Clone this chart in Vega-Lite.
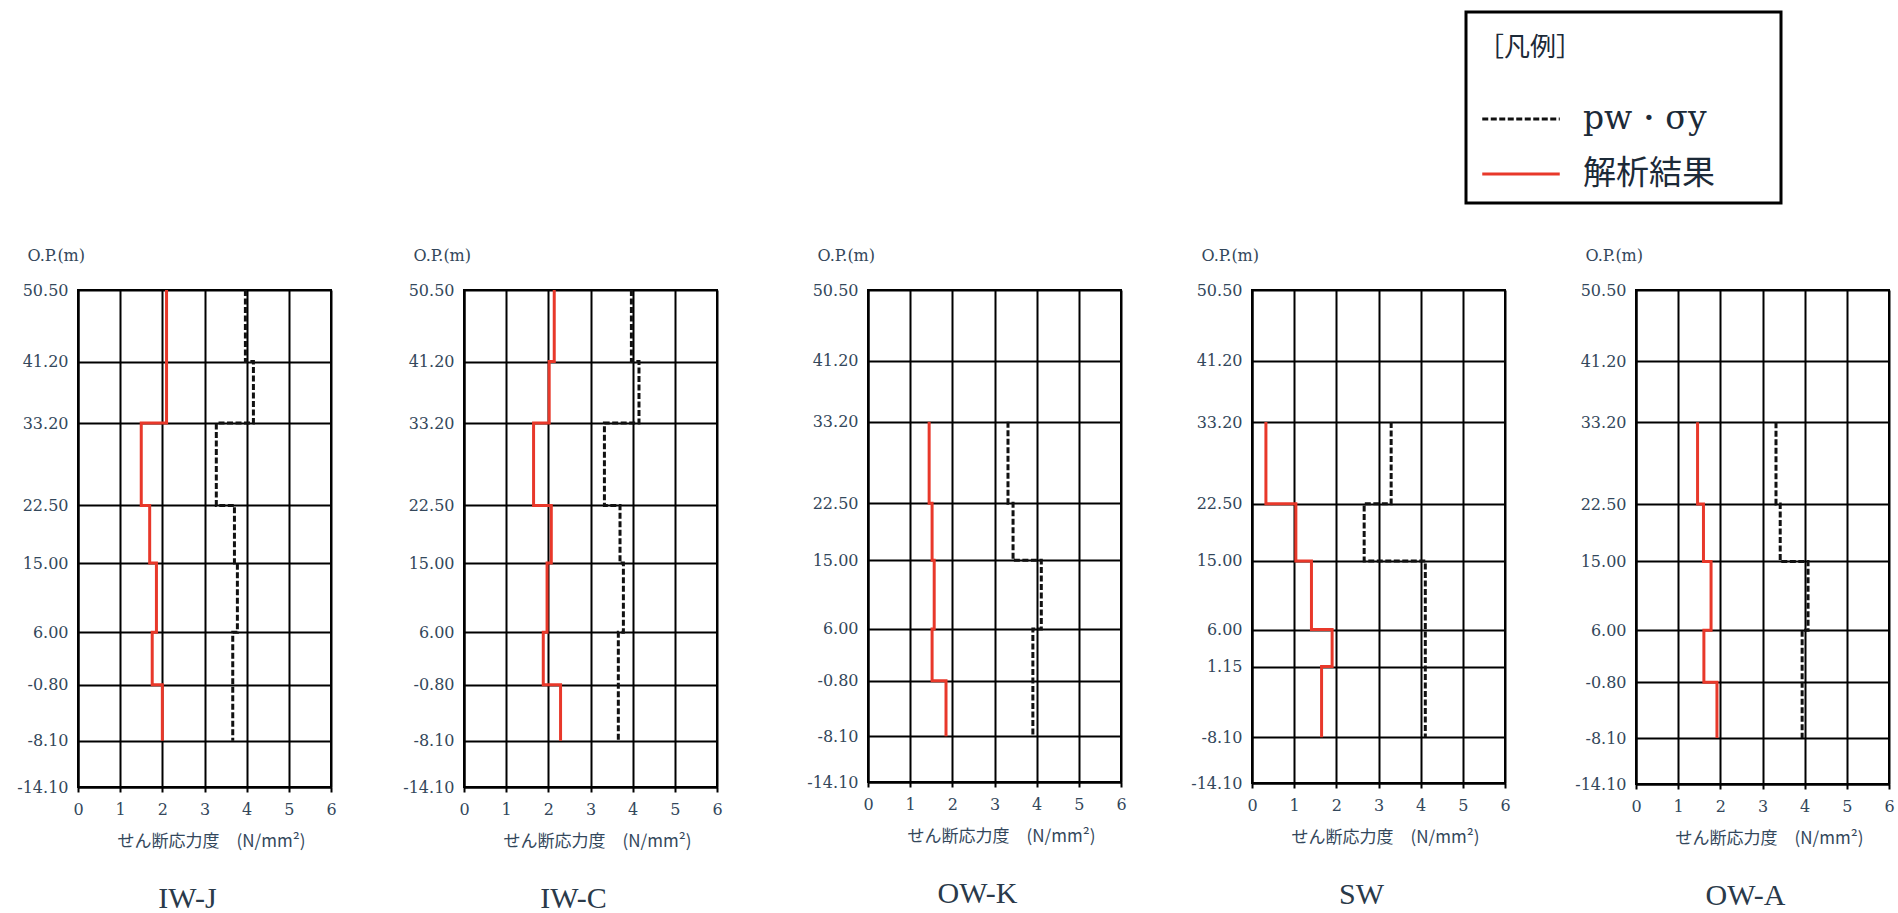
{
  "$schema": "https://vega.github.io/schema/vega-lite/v6.json",
  "background": "white",
  "padding": {"left": 10, "top": 10, "right": 4, "bottom": 0},
  "spacing": 61,
  "datasets": {
    "profile": [
      {"wall": "IW-J", "series": "解析結果", "step": 1, "level": 50.5, "stress": 2.1},
      {"wall": "IW-J", "series": "解析結果", "step": 2, "level": 33.2, "stress": 2.1},
      {"wall": "IW-J", "series": "解析結果", "step": 3, "level": 33.2, "stress": 1.5},
      {"wall": "IW-J", "series": "解析結果", "step": 4, "level": 22.5, "stress": 1.5},
      {"wall": "IW-J", "series": "解析結果", "step": 5, "level": 22.5, "stress": 1.7},
      {"wall": "IW-J", "series": "解析結果", "step": 6, "level": 15.0, "stress": 1.7},
      {"wall": "IW-J", "series": "解析結果", "step": 7, "level": 15.0, "stress": 1.86},
      {"wall": "IW-J", "series": "解析結果", "step": 8, "level": 6.0, "stress": 1.86},
      {"wall": "IW-J", "series": "解析結果", "step": 9, "level": 6.0, "stress": 1.76},
      {"wall": "IW-J", "series": "解析結果", "step": 10, "level": -0.8, "stress": 1.76},
      {"wall": "IW-J", "series": "解析結果", "step": 11, "level": -0.8, "stress": 2.0},
      {"wall": "IW-J", "series": "解析結果", "step": 12, "level": -8.1, "stress": 2.0},
      {"wall": "IW-J", "series": "pw・σy", "step": 1, "level": 50.5, "stress": 3.97},
      {"wall": "IW-J", "series": "pw・σy", "step": 2, "level": 41.2, "stress": 3.97},
      {"wall": "IW-J", "series": "pw・σy", "step": 3, "level": 41.2, "stress": 4.16},
      {"wall": "IW-J", "series": "pw・σy", "step": 4, "level": 33.2, "stress": 4.16},
      {"wall": "IW-J", "series": "pw・σy", "step": 5, "level": 33.2, "stress": 3.28},
      {"wall": "IW-J", "series": "pw・σy", "step": 6, "level": 22.5, "stress": 3.28},
      {"wall": "IW-J", "series": "pw・σy", "step": 7, "level": 22.5, "stress": 3.71},
      {"wall": "IW-J", "series": "pw・σy", "step": 8, "level": 15.0, "stress": 3.71},
      {"wall": "IW-J", "series": "pw・σy", "step": 9, "level": 15.0, "stress": 3.78},
      {"wall": "IW-J", "series": "pw・σy", "step": 10, "level": 6.0, "stress": 3.78},
      {"wall": "IW-J", "series": "pw・σy", "step": 11, "level": 6.0, "stress": 3.67},
      {"wall": "IW-J", "series": "pw・σy", "step": 12, "level": -8.1, "stress": 3.67},

      {"wall": "IW-C", "series": "解析結果", "step": 1, "level": 50.5, "stress": 2.14},
      {"wall": "IW-C", "series": "解析結果", "step": 2, "level": 41.2, "stress": 2.14},
      {"wall": "IW-C", "series": "解析結果", "step": 3, "level": 41.2, "stress": 2.02},
      {"wall": "IW-C", "series": "解析結果", "step": 4, "level": 33.2, "stress": 2.02},
      {"wall": "IW-C", "series": "解析結果", "step": 5, "level": 33.2, "stress": 1.65},
      {"wall": "IW-C", "series": "解析結果", "step": 6, "level": 22.5, "stress": 1.65},
      {"wall": "IW-C", "series": "解析結果", "step": 7, "level": 22.5, "stress": 2.07},
      {"wall": "IW-C", "series": "解析結果", "step": 8, "level": 15.0, "stress": 2.07},
      {"wall": "IW-C", "series": "解析結果", "step": 9, "level": 15.0, "stress": 1.97},
      {"wall": "IW-C", "series": "解析結果", "step": 10, "level": 6.0, "stress": 1.97},
      {"wall": "IW-C", "series": "解析結果", "step": 11, "level": 6.0, "stress": 1.88},
      {"wall": "IW-C", "series": "解析結果", "step": 12, "level": -0.8, "stress": 1.88},
      {"wall": "IW-C", "series": "解析結果", "step": 13, "level": -0.8, "stress": 2.29},
      {"wall": "IW-C", "series": "解析結果", "step": 14, "level": -8.1, "stress": 2.29},
      {"wall": "IW-C", "series": "pw・σy", "step": 1, "level": 50.5, "stress": 3.97},
      {"wall": "IW-C", "series": "pw・σy", "step": 2, "level": 41.2, "stress": 3.97},
      {"wall": "IW-C", "series": "pw・σy", "step": 3, "level": 41.2, "stress": 4.15},
      {"wall": "IW-C", "series": "pw・σy", "step": 4, "level": 33.2, "stress": 4.15},
      {"wall": "IW-C", "series": "pw・σy", "step": 5, "level": 33.2, "stress": 3.33},
      {"wall": "IW-C", "series": "pw・σy", "step": 6, "level": 22.5, "stress": 3.33},
      {"wall": "IW-C", "series": "pw・σy", "step": 7, "level": 22.5, "stress": 3.7},
      {"wall": "IW-C", "series": "pw・σy", "step": 8, "level": 15.0, "stress": 3.7},
      {"wall": "IW-C", "series": "pw・σy", "step": 9, "level": 15.0, "stress": 3.78},
      {"wall": "IW-C", "series": "pw・σy", "step": 10, "level": 6.0, "stress": 3.78},
      {"wall": "IW-C", "series": "pw・σy", "step": 11, "level": 6.0, "stress": 3.66},
      {"wall": "IW-C", "series": "pw・σy", "step": 12, "level": -8.1, "stress": 3.66},

      {"wall": "OW-K", "series": "解析結果", "step": 1, "level": 33.2, "stress": 1.45},
      {"wall": "OW-K", "series": "解析結果", "step": 2, "level": 22.5, "stress": 1.45},
      {"wall": "OW-K", "series": "解析結果", "step": 3, "level": 22.5, "stress": 1.52},
      {"wall": "OW-K", "series": "解析結果", "step": 4, "level": 15.0, "stress": 1.52},
      {"wall": "OW-K", "series": "解析結果", "step": 5, "level": 15.0, "stress": 1.57},
      {"wall": "OW-K", "series": "解析結果", "step": 6, "level": 6.0, "stress": 1.57},
      {"wall": "OW-K", "series": "解析結果", "step": 7, "level": 6.0, "stress": 1.52},
      {"wall": "OW-K", "series": "解析結果", "step": 8, "level": -0.8, "stress": 1.52},
      {"wall": "OW-K", "series": "解析結果", "step": 9, "level": -0.8, "stress": 1.85},
      {"wall": "OW-K", "series": "解析結果", "step": 10, "level": -8.1, "stress": 1.85},
      {"wall": "OW-K", "series": "pw・σy", "step": 1, "level": 33.2, "stress": 3.32},
      {"wall": "OW-K", "series": "pw・σy", "step": 2, "level": 22.5, "stress": 3.32},
      {"wall": "OW-K", "series": "pw・σy", "step": 3, "level": 22.5, "stress": 3.44},
      {"wall": "OW-K", "series": "pw・σy", "step": 4, "level": 15.0, "stress": 3.44},
      {"wall": "OW-K", "series": "pw・σy", "step": 5, "level": 15.0, "stress": 4.11},
      {"wall": "OW-K", "series": "pw・σy", "step": 6, "level": 6.0, "stress": 4.11},
      {"wall": "OW-K", "series": "pw・σy", "step": 7, "level": 6.0, "stress": 3.91},
      {"wall": "OW-K", "series": "pw・σy", "step": 8, "level": -8.1, "stress": 3.91},

      {"wall": "SW", "series": "解析結果", "step": 1, "level": 33.2, "stress": 0.33},
      {"wall": "SW", "series": "解析結果", "step": 2, "level": 22.5, "stress": 0.33},
      {"wall": "SW", "series": "解析結果", "step": 3, "level": 22.5, "stress": 1.04},
      {"wall": "SW", "series": "解析結果", "step": 4, "level": 15.0, "stress": 1.04},
      {"wall": "SW", "series": "解析結果", "step": 5, "level": 15.0, "stress": 1.41},
      {"wall": "SW", "series": "解析結果", "step": 6, "level": 6.0, "stress": 1.41},
      {"wall": "SW", "series": "解析結果", "step": 7, "level": 6.0, "stress": 1.9},
      {"wall": "SW", "series": "解析結果", "step": 8, "level": 1.15, "stress": 1.9},
      {"wall": "SW", "series": "解析結果", "step": 9, "level": 1.15, "stress": 1.65},
      {"wall": "SW", "series": "解析結果", "step": 10, "level": -8.1, "stress": 1.65},
      {"wall": "SW", "series": "pw・σy", "step": 1, "level": 33.2, "stress": 3.3},
      {"wall": "SW", "series": "pw・σy", "step": 2, "level": 22.5, "stress": 3.3},
      {"wall": "SW", "series": "pw・σy", "step": 3, "level": 22.5, "stress": 2.66},
      {"wall": "SW", "series": "pw・σy", "step": 4, "level": 15.0, "stress": 2.66},
      {"wall": "SW", "series": "pw・σy", "step": 5, "level": 15.0, "stress": 4.11},
      {"wall": "SW", "series": "pw・σy", "step": 6, "level": -8.1, "stress": 4.11},

      {"wall": "OW-A", "series": "解析結果", "step": 1, "level": 33.2, "stress": 1.46},
      {"wall": "OW-A", "series": "解析結果", "step": 2, "level": 22.5, "stress": 1.46},
      {"wall": "OW-A", "series": "解析結果", "step": 3, "level": 22.5, "stress": 1.6},
      {"wall": "OW-A", "series": "解析結果", "step": 4, "level": 15.0, "stress": 1.6},
      {"wall": "OW-A", "series": "解析結果", "step": 5, "level": 15.0, "stress": 1.78},
      {"wall": "OW-A", "series": "解析結果", "step": 6, "level": 6.0, "stress": 1.78},
      {"wall": "OW-A", "series": "解析結果", "step": 7, "level": 6.0, "stress": 1.61},
      {"wall": "OW-A", "series": "解析結果", "step": 8, "level": -0.8, "stress": 1.61},
      {"wall": "OW-A", "series": "解析結果", "step": 9, "level": -0.8, "stress": 1.92},
      {"wall": "OW-A", "series": "解析結果", "step": 10, "level": -8.1, "stress": 1.92},
      {"wall": "OW-A", "series": "pw・σy", "step": 1, "level": 33.2, "stress": 3.32},
      {"wall": "OW-A", "series": "pw・σy", "step": 2, "level": 22.5, "stress": 3.32},
      {"wall": "OW-A", "series": "pw・σy", "step": 3, "level": 22.5, "stress": 3.42},
      {"wall": "OW-A", "series": "pw・σy", "step": 4, "level": 15.0, "stress": 3.42},
      {"wall": "OW-A", "series": "pw・σy", "step": 5, "level": 15.0, "stress": 4.08},
      {"wall": "OW-A", "series": "pw・σy", "step": 6, "level": 6.0, "stress": 4.08},
      {"wall": "OW-A", "series": "pw・σy", "step": 7, "level": 6.0, "stress": 3.94},
      {"wall": "OW-A", "series": "pw・σy", "step": 8, "level": -8.1, "stress": 3.94}
    ]
  },
  "config": {
    "view": {"stroke": "black", "strokeWidth": 2},
    "line": {"strokeWidth": 3, "strokeJoin": "miter", "strokeCap": "butt"},
    "axis": {
      "grid": true,
      "gridColor": "black",
      "gridWidth": 2,
      "gridOpacity": 1,
      "domainColor": "black",
      "domainWidth": 2,
      "labelFont": "DejaVu Serif",
      "labelFontSize": 16,
      "labelColor": "#33475b",
      "labelFlush": false,
      "labelOverlap": false,
      "titleColor": "#33475b",
      "titleFontWeight": "normal"
    },
    "axisX": {
      "values": [0, 2, 4, 6],
      "labelAngle": 0,
      "tickSize": 5,
      "tickColor": "black",
      "tickWidth": 2,
      "labelPadding": 9,
      "titleFont": "Noto Sans CJK JP",
      "titleFontSize": 17,
      "titleX": 133,
      "titlePadding": 16
    },
    "axisY": {
      "ticks": false,
      "labelPadding": 10,
      "labelExpr": "(datum.value < 0 ? '-' : '') + format(abs(datum.value), '.2f')",
      "titleAngle": 0,
      "titleX": -51,
      "titleY": -35,
      "titleAlign": "left",
      "titleBaseline": "middle",
      "titleFont": "DejaVu Serif",
      "titleFontSize": 16,
      "maxExtent": 200
    },
    "title": {
      "orient": "bottom",
      "anchor": "middle",
      "frame": "group",
      "dx": -17,
      "offset": 35,
      "font": "Liberation Serif",
      "fontSize": 30,
      "fontWeight": "normal",
      "color": "#2a3a4a"
    },
    "legend": {
      "orient": "none",
      "legendX": 1388,
      "legendY": -278,
      "padding": 12,
      "strokeColor": "black",
      "strokeWidth": 3,
      "fillColor": "white",
      "titleFont": "Noto Sans CJK JP",
      "titleFontSize": 26,
      "titleFontWeight": "normal",
      "titleColor": "#1c2a38",
      "titleBaseline": "line-top",
      "titleLineHeight": 48,
      "titlePadding": 52,
      "labelFont": "Noto Sans CJK JP",
      "labelFontSize": 33,
      "labelColor": "#1c2a38",
      "labelLimit": 300,
      "symbolType": "M-2.5,0H2.5M15.6,0",
      "symbolSize": 961,
      "symbolStrokeWidth": 4,
      "symbolOffset": 26,
      "labelOffset": 45,
      "rowPadding": 21
    }
  },
  "hconcat": [
    {
      "width": 253,
      "height": 497,
      "data": {"name": "profile"},
      "transform": [{"filter": {"field": "wall", "equal": "IW-J"}}],
      "title": {"text": "IW-J"},
      "mark": "line",
      "encoding": {
        "x": {"field": "stress", "type": "quantitative", "scale": {"domain": [0, 6], "nice": false, "zero": false},
              "axis": {"title": "せん断応力度　(N/mm²)"}},
        "y": {"field": "level", "type": "quantitative", "scale": {"domain": [-14.1, 50.5], "nice": false, "zero": false},
              "axis": {"title": "O.P.(m)", "values": [50.5, 41.2, 33.2, 22.5, 15, 6, -0.8, -8.1, -14.1], "minExtent": 67}},
        "color": {"field": "series", "type": "nominal",
                  "scale": {"domain": ["pw・σy", "解析結果"], "range": ["#111111", "#e8382a"]},
                  "legend": {"title": "［凡例］",
                             "labelFont": {"expr": "datum.label === 'pw・σy' ? 'DejaVu Serif' : 'Noto Sans CJK JP'"}}},
        "strokeDash": {"field": "series", "type": "nominal",
                       "scale": {"domain": ["pw・σy", "解析結果"], "range": [[6, 2.5], [1, 0]]},
                       "legend": {"title": "［凡例］",
                                  "labelFont": {"expr": "datum.label === 'pw・σy' ? 'DejaVu Serif' : 'Noto Sans CJK JP'"}}},
        "order": {"field": "step", "type": "quantitative"}
      }
    },
    {
      "width": 253,
      "height": 497,
      "data": {"name": "profile"},
      "transform": [{"filter": {"field": "wall", "equal": "IW-C"}}],
      "title": {"text": "IW-C"},
      "mark": "line",
      "encoding": {
        "x": {"field": "stress", "type": "quantitative", "scale": {"domain": [0, 6], "nice": false, "zero": false},
              "axis": {"title": "せん断応力度　(N/mm²)"}},
        "y": {"field": "level", "type": "quantitative", "scale": {"domain": [-14.1, 50.5], "nice": false, "zero": false},
              "axis": {"title": "O.P.(m)", "values": [50.5, 41.2, 33.2, 22.5, 15, 6, -0.8, -8.1, -14.1], "minExtent": 64}},
        "color": {"field": "series", "type": "nominal",
                  "scale": {"domain": ["pw・σy", "解析結果"], "range": ["#111111", "#e8382a"]}, "legend": null},
        "strokeDash": {"field": "series", "type": "nominal",
                       "scale": {"domain": ["pw・σy", "解析結果"], "range": [[6, 2.5], [1, 0]]}, "legend": null},
        "order": {"field": "step", "type": "quantitative"}
      }
    },
    {
      "width": 253,
      "height": 492,
      "data": {"name": "profile"},
      "transform": [{"filter": {"field": "wall", "equal": "OW-K"}}],
      "title": {"text": "OW-K"},
      "mark": "line",
      "encoding": {
        "x": {"field": "stress", "type": "quantitative", "scale": {"domain": [0, 6], "nice": false, "zero": false},
              "axis": {"title": "せん断応力度　(N/mm²)"}},
        "y": {"field": "level", "type": "quantitative", "scale": {"domain": [-14.1, 50.5], "nice": false, "zero": false},
              "axis": {"title": "O.P.(m)", "values": [50.5, 41.2, 33.2, 22.5, 15, 6, -0.8, -8.1, -14.1], "minExtent": 82}},
        "color": {"field": "series", "type": "nominal",
                  "scale": {"domain": ["pw・σy", "解析結果"], "range": ["#111111", "#e8382a"]}, "legend": null},
        "strokeDash": {"field": "series", "type": "nominal",
                       "scale": {"domain": ["pw・σy", "解析結果"], "range": [[6, 2.5], [1, 0]]}, "legend": null},
        "order": {"field": "step", "type": "quantitative"}
      }
    },
    {
      "width": 253,
      "height": 493,
      "data": {"name": "profile"},
      "transform": [{"filter": {"field": "wall", "equal": "SW"}}],
      "title": {"text": "SW"},
      "mark": "line",
      "encoding": {
        "x": {"field": "stress", "type": "quantitative", "scale": {"domain": [0, 6], "nice": false, "zero": false},
              "axis": {"title": "せん断応力度　(N/mm²)"}},
        "y": {"field": "level", "type": "quantitative", "scale": {"domain": [-14.1, 50.5], "nice": false, "zero": false},
              "axis": {"title": "O.P.(m)", "values": [50.5, 41.2, 33.2, 22.5, 15, 6, 1.15, -8.1, -14.1], "minExtent": 60}},
        "color": {"field": "series", "type": "nominal",
                  "scale": {"domain": ["pw・σy", "解析結果"], "range": ["#111111", "#e8382a"]}, "legend": null},
        "strokeDash": {"field": "series", "type": "nominal",
                       "scale": {"domain": ["pw・σy", "解析結果"], "range": [[6, 2.5], [1, 0]]}, "legend": null},
        "order": {"field": "step", "type": "quantitative"}
      }
    },
    {
      "width": 253,
      "height": 494,
      "data": {"name": "profile"},
      "transform": [{"filter": {"field": "wall", "equal": "OW-A"}}],
      "title": {"text": "OW-A"},
      "mark": "line",
      "encoding": {
        "x": {"field": "stress", "type": "quantitative", "scale": {"domain": [0, 6], "nice": false, "zero": false},
              "axis": {"title": "せん断応力度　(N/mm²)"}},
        "y": {"field": "level", "type": "quantitative", "scale": {"domain": [-14.1, 50.5], "nice": false, "zero": false},
              "axis": {"title": "O.P.(m)", "values": [50.5, 41.2, 33.2, 22.5, 15, 6, -0.8, -8.1, -14.1], "minExtent": 62}},
        "color": {"field": "series", "type": "nominal",
                  "scale": {"domain": ["pw・σy", "解析結果"], "range": ["#111111", "#e8382a"]}, "legend": null},
        "strokeDash": {"field": "series", "type": "nominal",
                       "scale": {"domain": ["pw・σy", "解析結果"], "range": [[6, 2.5], [1, 0]]}, "legend": null},
        "order": {"field": "step", "type": "quantitative"}
      }
    }
  ]
}
